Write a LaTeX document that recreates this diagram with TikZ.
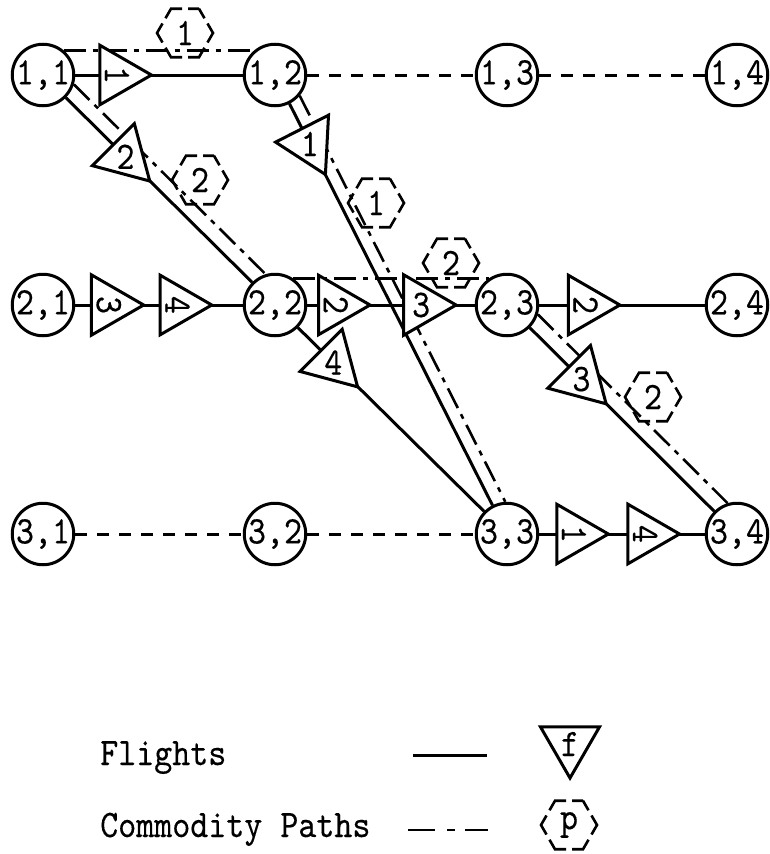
\documentclass[tikz,border=0pt]{standalone}
\usepackage{fontspec}
\usetikzlibrary{shapes.geometric}

\newfontfamily\typer{lmmono10-regular.otf}[FakeStretch=0.88,FakeBold=0.3]

\tikzset{
	airport/.style={circle,draw,line width=3pt,minimum size=60pt,inner sep=0pt},
	flight/.style={regular polygon,regular polygon sides=3,draw,fill=white,line width=3pt,minimum size=66pt,inner sep=0pt},
	cplabel/.style={regular polygon,regular polygon sides=6,draw,line width=2.6pt,minimum size=56pt,inner sep=0pt,dash pattern=on 22pt off 6pt,dash phase=11pt},
	leg/.style={line width=3pt},
	ground/.style={line width=3pt,dash pattern=on 12pt off 10pt},
	cpath/.style={line width=2.6pt,dash pattern=on 22pt off 7pt on 5pt off 7pt},
}

\begin{document}
\begin{tikzpicture}[x=1pt,y=-1pt,node font=\typer\fontsize{39pt}{44pt}\selectfont]
	\useasboundingbox (0,0) rectangle (769,854);

	% airports over time
	\begin{scope}[every node/.style={airport}]
		\node (n11) at (43,75) {1,1};
		\node (n12) at (275,75) {1,2};
		\node (n13) at (507,75) {1,3};
		\node (n14) at (737,75) {1,4};
		\node (n21) at (43,305) {2,1};
		\node (n22) at (275,305) {2,2};
		\node (n23) at (507,305) {2,3};
		\node (n24) at (737,305) {2,4};
		\node (n31) at (43,534) {3,1};
		\node (n32) at (275,534) {3,2};
		\node (n33) at (507,534) {3,3};
		\node (n34) at (737,534) {3,4};
	\end{scope}

	% commodity labels
	\node[cplabel] (p1a) at (185,33) {1};
	\node[cplabel] (p2a) at (200,180) {2};
	\node[cplabel] (p1b) at (376,203) {1};
	\node[cplabel] (p2b) at (451,263) {2};
	\node[cplabel] (p2c) at (653,397) {2};

	% commodity paths
	\draw[cpath] (n11.50) -- (n12.130);
	\draw[cpath] (n12.-40) -- (n33.93);
	\draw[cpath] (n11.-17) -- (n22.107);
	\draw[cpath] (n22.56) -- (n23.124);
	\draw[cpath] (n23.-17) -- (n34.107);

	% ground arcs
	\draw[ground] (n12) -- (n13) -- (n14);
	\draw[ground] (n31) -- (n32) -- (n33);

	% flights
	\path (n11) edge[leg] node[flight,pos=.25,rotate=-90] {1} (n12);
	\path (n11) edge[leg] node[flight,pos=.32,regular polygon rotate=-135] {2} (n22);
	\path (n12) edge[leg] node[flight,pos=.10,regular polygon rotate=-153] {1} (n33);
	\path (n21) edge[leg] node[flight,pos=.20,rotate=-90] {3} node[flight,pos=.61,rotate=-90] {4} (n22);
	\path (n22) edge[leg] node[flight,pos=.17,rotate=-90] {2} node[flight,pos=.68,regular polygon rotate=-90] {3} (n23);
	\path (n22) edge[leg] node[flight,pos=.19,regular polygon rotate=-135] {4} (n33);
	\path (n23) edge[leg] node[flight,pos=.28,rotate=-90] {2} (n24);
	\path (n23) edge[leg] node[flight,pos=.28,regular polygon rotate=-135] {3} (n34);
	\path (n33) edge[leg] node[flight,pos=.21,rotate=-90] {1} node[flight,pos=.64,rotate=-90] {4} (n34);

	% legend
	\node[anchor=base west,inner sep=0pt] (lflight) at (100,765) {Flights};
	\node[anchor=base west,inner sep=0pt] (lpath) at (100,837) {Commodity Paths};
	\coordinate (fa) at (413,755);
	\coordinate (fb) at (487,755);
	\coordinate (pa) at (408,830);
	\coordinate (pb) at (488,830);
	\draw[leg] (fa) -- (fb);
	\draw[cpath,dash pattern=on 27pt off 12pt on 8pt off 10pt on 23pt off 20pt] (pa) -- (pb);
	\node[flight,regular polygon rotate=180] (lf) at (570,744) {f};
	\node[cplabel] (lp) at (569,825) {p};
\end{tikzpicture}
\end{document}
